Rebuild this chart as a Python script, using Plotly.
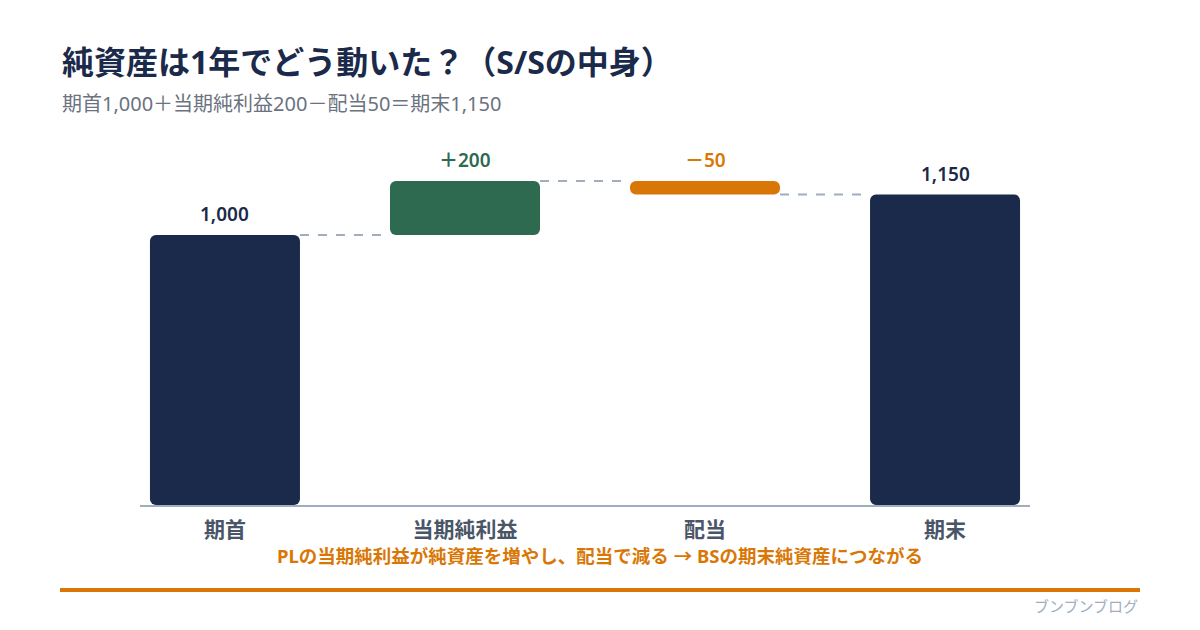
import plotly.graph_objects as go

# ---- data ----
categories = ["期首", "当期純利益", "配当", "期末"]
values = [1000, 200, -50, 1150]
value_labels = ["1,000", "＋200", "－50", "1,150"]
kinds = ["total", "relative", "relative", "total"]

title = "純資産は1年でどう動いた？（S/Sの中身）"
subtitle = "期首1,000＋当期純利益200－配当50＝期末1,150"
note = "PLの当期純利益が純資産を増やし、配当で減る → BSの期末純資産につながる"
brand = "ブンブンブログ"

NAVY = "#1b2a4a"
GREEN = "#2d6a4f"
ORANGE = "#d97706"
GRAY = "#6b7280"
TICK = "#4a5568"
LINE = "#a0aec0"
FONT = "Noto Sans, Noto Sans CJK JP"

# compute bases/tops
bases, tops = [], []
running = 0
for v, k in zip(values, kinds):
    if k == "total":
        b, t = 0, v
        running = v
    else:
        b = min(running, running + v)
        t = max(running, running + v)
        running += v
    bases.append(b)
    tops.append(t)
colors = [NAVY, GREEN, ORANGE, NAVY]
label_colors = [NAVY, GREEN, ORANGE, NAVY]

# page is slightly larger than the 1200x630 window (as in the reference, which shows scrollbars)
W, H = 1216, 646
ML, MR, MT, MB = 140, W - 1030, 154, H - 505
PW, PH = W - ML - MR, H - MT - MB


def px(xs):
    return (xs - ML) / PW


def py(ys):
    return ((H - MB) - ys) / PH


BW = 0.625
fig = go.Figure()
fig.add_trace(go.Bar(
    x=list(range(len(categories))),
    y=[t - b for t, b in zip(tops, bases)],
    base=bases,
    width=BW,
    marker=dict(color=colors, cornerradius=6, line=dict(width=0)),
    hoverinfo="skip",
))

shapes = []
# connectors between consecutive bars at the running level
running = 0
for i in range(len(categories) - 1):
    if kinds[i] == "total":
        running = values[i]
    else:
        running += values[i]
    shapes.append(dict(type="line", xref="x", yref="y",
                       x0=i + BW / 2, x1=i + 1 - BW / 2, y0=running, y1=running,
                       line=dict(color=LINE, width=2, dash="dash"), layer="below"))
# orange rule
shapes.append(dict(type="line", xref="paper", yref="paper",
                   x0=px(60), x1=px(1140), y0=py(590), y1=py(590),
                   line=dict(color=ORANGE, width=4)))

annotations = []
for i, (lab, t, c) in enumerate(zip(value_labels, tops, label_colors)):
    annotations.append(dict(x=i, y=t, xref="x", yref="y", text=lab, showarrow=False,
                            yanchor="bottom", yshift=6,
                            font=dict(family=FONT, size=19, color=c, weight=600)))
annotations += [
    dict(x=px(60), y=py(61), xref="paper", yref="paper", text=title, showarrow=False,
         xanchor="left", yanchor="middle",
         font=dict(family=FONT, size=32, color=NAVY, weight=700)),
    dict(x=px(60), y=py(104), xref="paper", yref="paper", text=subtitle, showarrow=False,
         xanchor="left", yanchor="middle",
         font=dict(family=FONT, size=20, color=GRAY)),
    dict(x=px(600), y=py(555), xref="paper", yref="paper", text=note, showarrow=False,
         xanchor="center", yanchor="middle",
         font=dict(family=FONT, size=18.5, color=ORANGE, weight=700)),
    dict(x=px(1140), y=py(606), xref="paper", yref="paper", text=brand, showarrow=False,
         xanchor="right", yanchor="middle",
         font=dict(family=FONT, size=15, color=LINE)),
]

fig.update_layout(
    width=W, height=H,
    margin=dict(l=ML, r=MR, t=MT, b=MB, pad=0),
    paper_bgcolor="white", plot_bgcolor="white",
    showlegend=False,
    shapes=shapes, annotations=annotations,
    xaxis=dict(tickmode="array", tickvals=list(range(len(categories))), ticktext=categories,
               range=[-0.354, len(categories) - 1 + 0.354],
               showgrid=False, zeroline=False, showline=True, linecolor=LINE, linewidth=2,
               ticks="", ticklabelstandoff=5,
               tickfont=dict(family=FONT, size=21, color=TICK, weight=700),
               fixedrange=True),
    yaxis=dict(range=[0, 1300], visible=False, fixedrange=True),
    font=dict(family=FONT),
)

fig.write_html("out.html")
